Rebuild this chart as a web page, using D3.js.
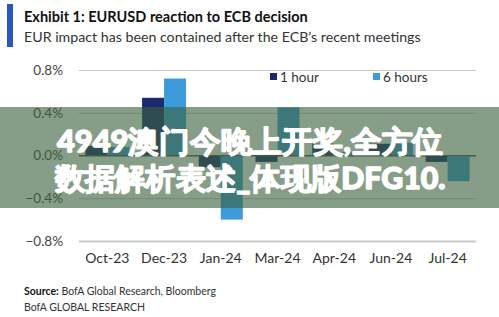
<!DOCTYPE html>
<html>
<head>
<meta charset="utf-8">
<script src="https://cdn.jsdelivr.net/npm/d3@7"></script>
<style>
  body { margin: 0; background: #fff; }
  text { font-family: Lato, "Noto Sans", sans-serif; }
</style>
</head>
<body>
<div id="canvas"></div>
<script>
"use strict"

// chart data
let months = ["Oct-23", "Dec-23", "Jan-24", "Mar-24", "Apr-24", "Jun-24", "Jul-24"];
let series = ["1 hour", "6 hours"];
let oneHour = [0.09, 0.54, -0.11, -0.06, 0.11, 0.11, -0.06];
let sixHours = [0.08, 0.72, -0.60, 0.45, 0.03, 0.12, -0.24];
let yTicks = [-0.8, -0.4, 0.0, 0.4, 0.8];
let colours = ["#1b2a6e", "#3d9bdb"];

let width = 499;
let height = 317;

let drawing = d3.select("#canvas")
    .append("svg")
    .attr("width", width)
    .attr("height", height);

drawing.append("rect")
    .attr("width", width)
    .attr("height", height)
    .attr("fill", "#fff");

/* blue marker and titles */
drawing.append("rect")
    .attr("x", 7).attr("y", 4)
    .attr("width", 6).attr("height", 43)
    .attr("fill", "#2b56c2");

drawing.append("text")
    .attr("x", 24).attr("y", 22)
    .attr("font-size", 14.5)
    .attr("font-weight", "bold")
    .attr("fill", "#111")
    .text("Exhibit 1: EURUSD reaction to ECB decision");

drawing.append("text")
    .attr("x", 24).attr("y", 42)
    .attr("font-size", 14.2)
    .attr("fill", "#333")
    .text("EUR impact has been contained after the ECB\u2019s recent meetings");

/* scales */
let x0 = d3.scaleBand()
    .domain(months)
    .range([79, 476]);

let x1 = d3.scaleBand()
    .domain(series)
    .range([0, x0.bandwidth()])
    .paddingOuter(0.29);

let y = d3.scaleLinear()
    .domain([-0.8, 0.8])
    .range([241, 70]);

/* gridlines */
let yAxis = d3.axisLeft(y)
    .tickValues(yTicks)
    .tickSize(-(476 - 79))
    .tickPadding(16)
    .tickFormat(d => d3.format(".1f")(d) + "%");

let yAxisGroup = drawing.append("g")
    .attr("transform", "translate(79,0)")
    .call(yAxis);

yAxisGroup.select(".domain").remove();
yAxisGroup.selectAll(".tick line")
    .attr("stroke", d => d === 0 ? "#555" : "#c9c9c9")
    .attr("stroke-width", d => d === -0.8 ? 2 : 1);
yAxisGroup.selectAll(".tick text")
    .attr("font-size", 13.5)
    .attr("fill", "#444")
    .attr("x", -16);

/* bars */
let rows = months.map((m, i) => ({ month: m, values: [oneHour[i], sixHours[i]] }));

let groups = drawing.append("g")
    .selectAll("g")
    .data(rows)
    .join("g")
    .attr("transform", d => "translate(" + x0(d.month) + ",0)");

groups.selectAll("rect")
    .data(d => d.values.map((v, j) => ({ key: series[j], value: v, colour: colours[j] })))
    .join("rect")
    .attr("x", d => x1(d.key))
    .attr("width", x1.bandwidth())
    .attr("y", d => y(Math.max(0, d.value)))
    .attr("height", d => Math.abs(y(d.value) - y(0)))
    .attr("fill", d => d.colour);

/* zero line over the bars */
drawing.append("line")
    .attr("x1", 79).attr("x2", 476)
    .attr("y1", y(0)).attr("y2", y(0))
    .attr("stroke", "#555")
    .attr("stroke-width", 1);

/* month labels */
let xAxis = d3.axisBottom(x0).tickSize(0).tickPadding(0);
let xAxisGroup = drawing.append("g")
    .attr("transform", "translate(0,253)")
    .call(xAxis);
xAxisGroup.select(".domain").remove();
xAxisGroup.selectAll(".tick text")
    .attr("font-size", 14)
    .attr("fill", "#333");

/* legend */
let legendX = [270, 373];
series.forEach((s, i) => {
    drawing.append("rect")
        .attr("x", legendX[i]).attr("y", 73)
        .attr("width", 7).attr("height", 7)
        .attr("fill", colours[i]);
    drawing.append("text")
        .attr("x", legendX[i] + 10).attr("y", 82)
        .attr("font-size", 13.5)
        .attr("fill", "#333")
        .text(s);
});

/* source */
let source = drawing.append("text")
    .attr("x", 24).attr("y", 295)
    .attr("font-size", 10.5)
    .attr("fill", "#333");
source.append("tspan").attr("font-weight", "bold").attr("fill", "#111").text("Source:");
source.append("tspan").text(" BofA Global Research, Bloomberg");

drawing.append("text")
    .attr("x", 24).attr("y", 311)
    .attr("font-size", 10.5)
    .attr("fill", "#333")
    .text("BofA GLOBAL RESEARCH");

/* overlay banner across the picture */
drawing.append("rect")
    .attr("x", 0).attr("y", 107)
    .attr("width", width).attr("height", 101)
    .attr("fill", "rgb(60,98,61)")
    .attr("fill-opacity", 0.62);

let banner = ["4949澳门今晚上开奖,全方位", "数据解析表述_体现版DFG10."];
let bannerY = [152, 189];
let bannerW = [386, 391];
banner.forEach((t, i) => {
    drawing.append("text")
        .attr("x", 250).attr("y", bannerY[i])
        .attr("text-anchor", "middle")
        .attr("font-family", "'Noto Sans CJK SC', sans-serif")
        .attr("font-weight", 900)
        .attr("font-size", 30)
        .attr("fill", "#fff")
        .attr("stroke", "#fff")
        .attr("stroke-width", 1.4)
        .attr("stroke-linejoin", "round")
        .attr("textLength", bannerW[i])
        .attr("lengthAdjust", "spacingAndGlyphs")
        .text(t);
});
</script>
</body>
</html>
